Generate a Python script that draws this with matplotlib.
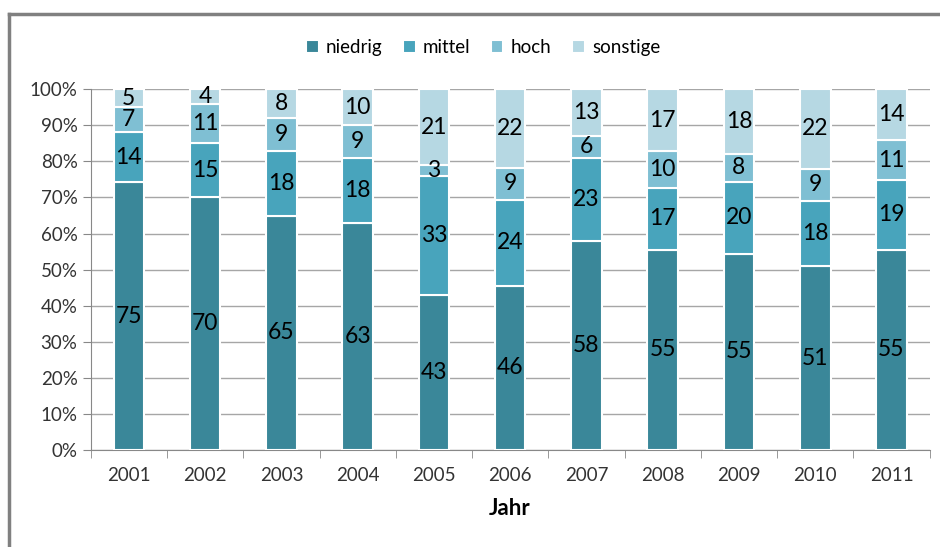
import numpy as np
import matplotlib.pyplot as plt
from matplotlib.ticker import PercentFormatter, FixedLocator
from matplotlib.lines import Line2D

plt.rcParams['font.family'] = ['Lato', 'DejaVu Sans']

jahre = ['2001', '2002', '2003', '2004', '2005', '2006', '2007', '2008', '2009', '2010', '2011']
niedrig = [75, 70, 65, 63, 43, 46, 58, 55, 55, 51, 55]
mittel = [14, 15, 18, 18, 33, 24, 23, 17, 20, 18, 19]
hoch = [7, 11, 9, 9, 3, 9, 6, 10, 8, 9, 11]
sonstige = [5, 4, 8, 10, 21, 22, 13, 17, 18, 22, 14]

series = [('niedrig', niedrig, '#3a8799'),
          ('mittel', mittel, '#48a4bc'),
          ('hoch', hoch, '#7fbfd3'),
          ('sonstige', sonstige, '#b6d8e3')]

data = np.array([s[1] for s in series], dtype=float)
shares = data / data.sum(axis=0) * 100

fig = plt.figure(figsize=(9.4, 5.47), dpi=100)
ax = fig.add_axes([0.0965, 0.177, 0.8925, 0.66])

x = np.arange(len(jahre))
bottom = np.zeros(len(jahre))
for i, (name, vals, col) in enumerate(series):
    ax.bar(x, shares[i], 0.4, bottom=bottom, color=col, edgecolor='white',
           linewidth=1.5, label=name, zorder=3)
    for xi, b, h, v in zip(x, bottom, shares[i], vals):
        ax.text(xi, b + h / 2, str(v), ha='center', va='center',
                fontsize=16.5, color='black', zorder=4)
    bottom += shares[i]

ax.set_xlim(-0.5, len(jahre) - 0.5)
ax.set_ylim(0, 100)
ax.set_yticks(np.arange(0, 101, 10))
ax.yaxis.set_major_formatter(PercentFormatter(decimals=0))
ax.set_xticks(x)
ax.set_xticklabels(jahre)
ax.xaxis.set_minor_locator(FixedLocator(np.arange(-0.5, len(jahre), 1.0)))
ax.tick_params(axis='x', which='major', length=0, labelsize=13.5, pad=12, colors='#333333')
ax.tick_params(axis='x', which='minor', length=6, color='#888888')
ax.tick_params(axis='y', length=6, color='#888888', labelsize=13.5, labelcolor='#333333')

ax.grid(axis='y', color='#a6a6a6', linewidth=1, zorder=0)
for s in ['top', 'right']:
    ax.spines[s].set_visible(False)
for s in ['left', 'bottom']:
    ax.spines[s].set_color('#888888')

ax.set_xlabel('Jahr', fontsize=16, fontweight='bold', labelpad=10)

ax.legend(loc='lower center', bbox_to_anchor=(0.468, 1.045), ncol=4, frameon=False,
          fontsize=13.5, handlelength=0.65, handleheight=0.65, handletextpad=0.4,
          columnspacing=1.1)

# outer frame (only top and left visible in the crop)
fig.add_artist(Line2D([9 / 940, 9 / 940], [0, 1 - 14 / 547], color='#808080', linewidth=2.5,
                      transform=fig.transFigure))
fig.add_artist(Line2D([9 / 940, 1], [1 - 14 / 547, 1 - 14 / 547], color='#808080', linewidth=2.5,
                      transform=fig.transFigure))

fig.savefig('out.png', dpi=100)
